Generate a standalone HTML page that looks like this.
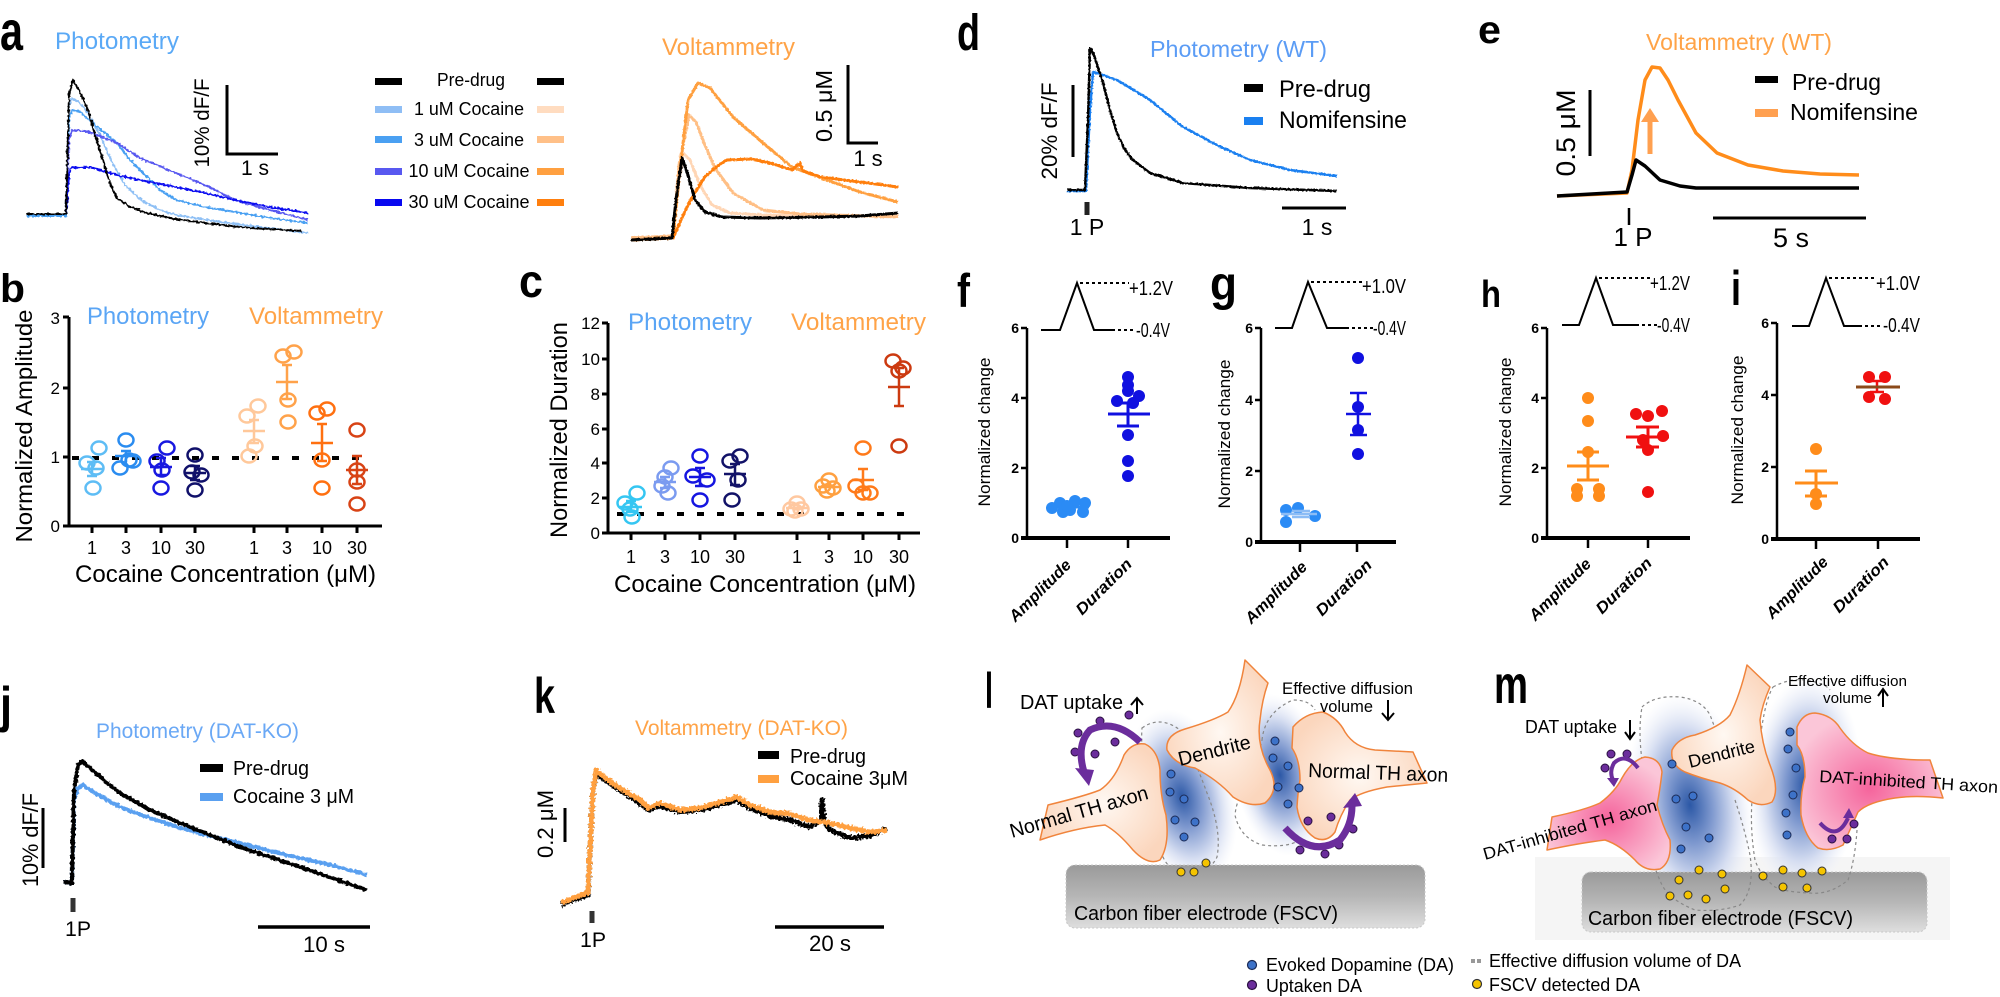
<!DOCTYPE html>
<html><head><meta charset="utf-8">
<style>
html,body{margin:0;padding:0;background:#fff;}
svg{display:block;}
text{font-family:"Liberation Sans",Arial,sans-serif;}
</style></head><body>
<svg width="2000" height="997" viewBox="0 0 2000 997" xmlns="http://www.w3.org/2000/svg">
<defs>
 <filter id="jit" x="-5%" y="-10%" width="110%" height="120%">
  <feTurbulence type="fractalNoise" baseFrequency="0.4" numOctaves="1" seed="4" result="n"/>
  <feDisplacementMap in="SourceGraphic" in2="n" scale="4" xChannelSelector="R" yChannelSelector="G"/>
 </filter>
 <filter id="jit2" x="-5%" y="-10%" width="110%" height="120%">
  <feTurbulence type="fractalNoise" baseFrequency="0.5" numOctaves="1" seed="7" result="n"/>
  <feDisplacementMap in="SourceGraphic" in2="n" scale="6" xChannelSelector="R" yChannelSelector="G"/>
 </filter>
 <filter id="jit3" x="-5%" y="-10%" width="110%" height="120%">
  <feTurbulence type="fractalNoise" baseFrequency="0.5" numOctaves="1" seed="2" result="n"/>
  <feDisplacementMap in="SourceGraphic" in2="n" scale="2.5" xChannelSelector="R" yChannelSelector="G"/>
 </filter>
 <radialGradient id="cloud" cx="50%" cy="50%" r="50%">
  <stop offset="0" stop-color="#2c58a6"/>
  <stop offset="0.35" stop-color="#7f99cf"/>
  <stop offset="0.7" stop-color="#d5ddf1"/>
  <stop offset="1" stop-color="#eef1fa" stop-opacity="0"/>
 </radialGradient>
 <radialGradient id="peach" cx="50%" cy="50%" r="55%">
  <stop offset="0" stop-color="#fff8f2"/>
  <stop offset="1" stop-color="#fbd6bd"/>
 </radialGradient>
 <radialGradient id="pink" cx="50%" cy="55%" r="55%">
  <stop offset="0" stop-color="#f5649c"/>
  <stop offset="1" stop-color="#fbc6d8"/>
 </radialGradient>
 <linearGradient id="elec" x1="0" y1="0" x2="0" y2="1">
  <stop offset="0" stop-color="#9a9a9a"/>
  <stop offset="0.5" stop-color="#b6b6b6"/>
  <stop offset="1" stop-color="#dedede"/>
 </linearGradient>
</defs>

<!-- ============ Panel labels ============ -->
<g font-weight="bold" fill="#000">
 <text x="0" y="50" font-size="56" textLength="23" lengthAdjust="spacingAndGlyphs">a</text>
 <text x="0" y="302" font-size="40" textLength="25" lengthAdjust="spacingAndGlyphs">b</text>
 <text x="519" y="297" font-size="46" textLength="24" lengthAdjust="spacingAndGlyphs">c</text>
 <text x="957" y="50" font-size="51" textLength="23" lengthAdjust="spacingAndGlyphs">d</text>
 <text x="1478" y="43" font-size="39" textLength="23" lengthAdjust="spacingAndGlyphs">e</text>
 <text x="957" y="307" font-size="47" textLength="13" lengthAdjust="spacingAndGlyphs">f</text>
 <text x="1210" y="300" font-size="48" textLength="27" lengthAdjust="spacingAndGlyphs">g</text>
 <text x="1481" y="307" font-size="38" textLength="20" lengthAdjust="spacingAndGlyphs">h</text>
 <text x="1731" y="305" font-size="49" textLength="10" lengthAdjust="spacingAndGlyphs">i</text>
 <text x="0" y="722" font-size="50" textLength="12" lengthAdjust="spacingAndGlyphs">j</text>
 <text x="534" y="713" font-size="50" textLength="21" lengthAdjust="spacingAndGlyphs">k</text>
 <text x="985" y="708" font-size="50" textLength="8" lengthAdjust="spacingAndGlyphs">l</text>
 <text x="1494" y="703" font-size="54" textLength="34" lengthAdjust="spacingAndGlyphs">m</text>
</g>

<!-- ============ Panel a ============ -->
<text x="55" y="49" font-size="24" fill="#5aa9f6" textLength="124" lengthAdjust="spacingAndGlyphs">Photometry</text>
<g fill="none" stroke-width="2" stroke-linejoin="round" filter="url(#jit)">
 <path stroke="#8fc0f5" d="M26,216 L66,216 L69,105 L72,98 L80,103 L88,113 L100,135 L111,160 L125,185 L141,200 L160,210 L176,215 L220,222 L260,227 L308,233"/>
 <path stroke="#4aa0f2" d="M26,216 L66,216 L69,120 L72,110 L80,112 L95,125 L117,143 L130,160 L147,177 L160,190 L176,200 L205,207 L235,212 L270,218 L308,223"/>
 <path stroke="#5858f0" d="M26,214 L66,214 L69,140 L72,130 L85,131 L100,136 L117,143 L140,158 L176,173 L205,185 L235,200 L270,210 L308,220"/>
 <path stroke="#0a10f0" d="M26,214 L66,214 L69,175 L71,167 L80,168 L90,167 L100,170 L117,175 L140,180 L176,187 L205,193 L235,200 L270,207 L308,213"/>
 <path stroke="#000" d="M26,214 L66,214 L69,95 L73,80 L80,92 L88,110 L95,135 L103,160 L110,183 L117,198 L130,207 L147,213 L175,219 L205,223 L250,228 L302,231"/>
</g>
<path d="M227,85 V154 H278" fill="none" stroke="#000" stroke-width="3"/>
<text transform="translate(209,123) rotate(-90)" text-anchor="middle" font-size="21" textLength="89" lengthAdjust="spacingAndGlyphs">10% dF/F</text>
<text x="255" y="175" text-anchor="middle" font-size="21">1 s</text>

<!-- legend a -->
<g>
 <rect x="375" y="78" width="27" height="7" fill="#000"/>
 <rect x="375" y="106" width="27" height="7" fill="#8fbef5"/>
 <rect x="375" y="136" width="27" height="7" fill="#4aa0f2"/>
 <rect x="375" y="168" width="27" height="7" fill="#5858f0"/>
 <rect x="375" y="199" width="27" height="7" fill="#0808f0"/>
 <rect x="537" y="78" width="27" height="7" fill="#000"/>
 <rect x="537" y="106" width="27" height="7" fill="#ffdcc0"/>
 <rect x="537" y="136" width="27" height="7" fill="#ffc088"/>
 <rect x="537" y="168" width="27" height="7" fill="#ffa040"/>
 <rect x="537" y="199" width="27" height="7" fill="#ff7f0e"/>
 <g font-size="18" text-anchor="middle">
  <text x="471" y="86" textLength="68" lengthAdjust="spacingAndGlyphs">Pre-drug</text>
  <text x="469" y="115" textLength="110" lengthAdjust="spacingAndGlyphs">1 uM Cocaine</text>
  <text x="469" y="146" textLength="110" lengthAdjust="spacingAndGlyphs">3 uM Cocaine</text>
  <text x="469" y="177" textLength="121" lengthAdjust="spacingAndGlyphs">10 uM Cocaine</text>
  <text x="469" y="208" textLength="121" lengthAdjust="spacingAndGlyphs">30 uM Cocaine</text>
 </g>
</g>

<!-- voltammetry a -->
<text x="662" y="55" font-size="24" fill="#ffa347" textLength="133" lengthAdjust="spacingAndGlyphs">Voltammetry</text>
<g fill="none" stroke-width="3" stroke-linejoin="round" filter="url(#jit3)">
 <path stroke="#ffd6b5" d="M631,238 L673,236 L677,195 L683,153 L690,160 L700,185 L712,205 L730,213 L763,215 L898,216"/>
 <path stroke="#ffbf85" d="M631,238 L673,236 L679,165 L689,115 L696,122 L704,143 L715,168 L733,193 L763,210 L800,214 L898,217"/>
 <path stroke="#ffa040" d="M631,240 L673,238 L680,170 L688,100 L698,83 L710,88 L722,103 L733,117 L748,130 L763,143 L792,167 L821,178 L860,192 L898,202"/>
 <path stroke="#ff7f0e" d="M631,240 L673,238 L680,222 L689,203 L704,178 L716,167 L727,160 L751,159 L770,163 L792,170 L800,163 L803,171 L821,177 L860,182 L898,187"/>
 <path stroke="#000" d="M631,240 L672,238 L676,200 L682,158 L688,175 L695,200 L705,212 L722,217 L760,218 L820,217 L860,216 L898,213"/>
</g>
<path d="M848,65 V143 H878" fill="none" stroke="#000" stroke-width="3"/>
<text transform="translate(832,106) rotate(-90)" text-anchor="middle" font-size="23" textLength="72" lengthAdjust="spacingAndGlyphs">0.5 μM</text>
<text x="868" y="166" text-anchor="middle" font-size="22">1 s</text>

<!-- ============ Panel d ============ -->
<text x="1150" y="57" font-size="23" fill="#5b9cf5" textLength="177" lengthAdjust="spacingAndGlyphs">Photometry (WT)</text>
<g fill="none" stroke-width="2.5" stroke-linejoin="round" filter="url(#jit3)">
 <path stroke="#1a80f0" d="M1067,191 L1086,191 L1090,110 L1093,72 L1100,74 L1117,80 L1150,100 L1183,127 L1217,145 L1250,160 L1290,170 L1337,176"/>
 <path stroke="#000" d="M1067,190 L1085,190 L1088,120 L1090,48 L1094,55 L1103,83 L1110,110 L1117,133 L1125,150 L1133,160 L1150,173 L1183,183 L1250,188 L1337,191"/>
</g>
<line x1="1073" y1="85" x2="1073" y2="157" stroke="#000" stroke-width="3"/>
<text transform="translate(1057,131) rotate(-90)" text-anchor="middle" font-size="22" textLength="97" lengthAdjust="spacingAndGlyphs">20% dF/F</text>
<rect x="1244" y="84" width="19" height="8" fill="#000"/>
<rect x="1244" y="117" width="19" height="8" fill="#1a80f0"/>
<text x="1279" y="97" font-size="24" textLength="92" lengthAdjust="spacingAndGlyphs">Pre-drug</text>
<text x="1279" y="128" font-size="24" textLength="128" lengthAdjust="spacingAndGlyphs">Nomifensine</text>
<line x1="1087" y1="202" x2="1087" y2="215" stroke="#222" stroke-width="5"/>
<text x="1087" y="235" text-anchor="middle" font-size="23">1 P</text>
<line x1="1282" y1="208" x2="1346" y2="208" stroke="#000" stroke-width="3"/>
<text x="1317" y="235" text-anchor="middle" font-size="23">1 s</text>

<!-- ============ Panel e ============ -->
<text x="1646" y="50" font-size="23" fill="#ffa347" textLength="186" lengthAdjust="spacingAndGlyphs">Voltammetry (WT)</text>
<g fill="none" stroke-width="3.5" stroke-linejoin="round">
 <path stroke="#ff8c1a" d="M1557,196 L1627,193 L1632,170 L1638,120 L1645,80 L1652,67 L1660,68 L1668,80 L1678,100 L1696,133 L1717,153 L1748,165 L1783,171 L1820,174 L1859,175"/>
 <path stroke="#000" d="M1557,196 L1627,192 L1632,175 L1636,160 L1645,166 L1660,180 L1680,186 L1696,188 L1859,188"/>
</g>
<line x1="1650" y1="154" x2="1650" y2="120" stroke="#ffa050" stroke-width="5"/>
<polygon points="1641,122 1659,122 1650,108" fill="#ffa050"/>
<line x1="1590" y1="90" x2="1590" y2="156" stroke="#000" stroke-width="3"/>
<text transform="translate(1575,133) rotate(-90)" text-anchor="middle" font-size="27" textLength="87" lengthAdjust="spacingAndGlyphs">0.5 μM</text>
<rect x="1755" y="76" width="23" height="7" fill="#000"/>
<rect x="1755" y="109" width="23" height="8" fill="#ffa050"/>
<text x="1792" y="90" font-size="23" textLength="89" lengthAdjust="spacingAndGlyphs">Pre-drug</text>
<text x="1790" y="120" font-size="23" textLength="128" lengthAdjust="spacingAndGlyphs">Nomifensine</text>
<line x1="1629" y1="208" x2="1629" y2="225" stroke="#000" stroke-width="2.5"/>
<text x="1633" y="246" text-anchor="middle" font-size="26">1 P</text>
<line x1="1713" y1="218" x2="1866" y2="218" stroke="#000" stroke-width="3"/>
<text x="1791" y="247" text-anchor="middle" font-size="27">5 s</text>

<!-- ============ Panel b ============ -->
<g stroke="#000" stroke-width="3" fill="none">
 <path d="M69,317 V526 H382"/>
 <path d="M63,317 H69 M63,388 H69 M63,457 H69 M63,526 H69"/>
 <path d="M92,526 V533 M126,526 V533 M161,526 V533 M195,526 V533 M254,526 V533 M287,526 V533 M322,526 V533 M357,526 V533"/>
</g>
<g font-size="17" text-anchor="end">
 <text x="60" y="324">3</text><text x="60" y="394">2</text><text x="60" y="463">1</text><text x="60" y="532">0</text>
</g>
<g font-size="18" text-anchor="middle">
 <text x="92" y="554">1</text><text x="126" y="554">3</text><text x="161" y="554">10</text><text x="195" y="554">30</text>
 <text x="254" y="554">1</text><text x="287" y="554">3</text><text x="322" y="554">10</text><text x="357" y="554">30</text>
</g>
<text x="75" y="582" font-size="24" textLength="301" lengthAdjust="spacingAndGlyphs">Cocaine Concentration (μM)</text>
<text transform="translate(32,426) rotate(-90)" text-anchor="middle" font-size="23" textLength="233" lengthAdjust="spacingAndGlyphs">Normalized Amplitude</text>
<text x="87" y="324" font-size="24" fill="#5aa5f5" textLength="122" lengthAdjust="spacingAndGlyphs">Photometry</text>
<text x="249" y="324" font-size="24" fill="#ffa347" textLength="134" lengthAdjust="spacingAndGlyphs">Voltammetry</text>
<line x1="72" y1="458" x2="369" y2="458" stroke="#000" stroke-width="4" stroke-dasharray="7 13"/>
<g fill="none" stroke-width="2.5">
 <g stroke="#5ebdf5">
  <ellipse cx="99" cy="448" rx="7.5" ry="6.5"/><ellipse cx="87" cy="463" rx="7.5" ry="6.5"/><ellipse cx="96" cy="468" rx="7.5" ry="6.5"/><ellipse cx="93" cy="488" rx="7.5" ry="6.5"/>
  <path d="M81,469 H103 M92,462 V476 M87,462 H97 M87,476 H97"/>
 </g>
 <g stroke="#2a8cf0">
  <ellipse cx="126" cy="440" rx="7.5" ry="6.5"/><ellipse cx="129" cy="460" rx="7.5" ry="6.5"/><ellipse cx="133" cy="461" rx="7.5" ry="6.5"/><ellipse cx="120" cy="468" rx="7.5" ry="6.5"/>
  <path d="M115,456 H137 M126,451 V462 M121,451 H131"/>
 </g>
 <g stroke="#1818e0">
  <ellipse cx="167" cy="448" rx="7.5" ry="6.5"/><ellipse cx="157" cy="461" rx="7.5" ry="6.5"/><ellipse cx="162" cy="470" rx="7.5" ry="6.5"/><ellipse cx="161" cy="488" rx="7.5" ry="6.5"/>
  <path d="M150,467 H172 M161,458 V475 M156,458 H166 M156,475 H166"/>
 </g>
 <g stroke="#10106a">
  <ellipse cx="195" cy="455" rx="7.5" ry="6.5"/><ellipse cx="192" cy="472" rx="7.5" ry="6.5"/><ellipse cx="201" cy="475" rx="7.5" ry="6.5"/><ellipse cx="195" cy="490" rx="7.5" ry="6.5"/>
  <path d="M184,473 H206 M195,466 V480 M190,466 H200 M190,480 H200"/>
 </g>
 <g stroke="#ffc89a">
  <ellipse cx="258" cy="406" rx="7.5" ry="6.5"/><ellipse cx="247" cy="416" rx="7.5" ry="6.5"/><ellipse cx="255" cy="446" rx="7.5" ry="6.5"/><ellipse cx="249" cy="456" rx="7.5" ry="6.5"/>
  <path d="M243,431 H265 M254,420 V443 M249,420 H259 M249,443 H259"/>
 </g>
 <g stroke="#ffa24a">
  <ellipse cx="294" cy="352" rx="7.5" ry="6.5"/><ellipse cx="283" cy="356" rx="7.5" ry="6.5"/><ellipse cx="288" cy="400" rx="7.5" ry="6.5"/><ellipse cx="288" cy="422" rx="7.5" ry="6.5"/>
  <path d="M276,382 H298 M287,365 V399 M282,365 H292 M282,399 H292"/>
 </g>
 <g stroke="#ff7010">
  <ellipse cx="327" cy="409" rx="7.5" ry="6.5"/><ellipse cx="317" cy="413" rx="7.5" ry="6.5"/><ellipse cx="322" cy="460" rx="7.5" ry="6.5"/><ellipse cx="322" cy="488" rx="7.5" ry="6.5"/>
  <path d="M311,443 H333 M322,424 V461 M317,424 H327 M317,461 H327"/>
 </g>
 <g stroke="#d84315">
  <ellipse cx="357" cy="430" rx="7.5" ry="6.5"/><ellipse cx="357" cy="470" rx="7.5" ry="6.5"/><ellipse cx="357" cy="482" rx="7.5" ry="6.5"/><ellipse cx="357" cy="504" rx="7.5" ry="6.5"/>
  <path d="M346,470 H368 M357,456 V484 M352,456 H362 M352,484 H362"/>
 </g>
</g>

<!-- ============ Panel c ============ -->
<g stroke="#000" stroke-width="3" fill="none">
 <path d="M608,323 V533 H920"/>
 <path d="M602,323 H608 M602,359 H608 M602,394 H608 M602,429 H608 M602,463 H608 M602,498 H608 M602,533 H608"/>
 <path d="M631,533 V540 M665,533 V540 M700,533 V540 M735,533 V540 M797,533 V540 M829,533 V540 M863,533 V540 M899,533 V540"/>
</g>
<g font-size="17" text-anchor="end">
 <text x="600" y="329">12</text><text x="600" y="365">10</text><text x="600" y="400">8</text><text x="600" y="435">6</text>
 <text x="600" y="469">4</text><text x="600" y="504">2</text><text x="600" y="539">0</text>
</g>
<g font-size="18" text-anchor="middle">
 <text x="631" y="563">1</text><text x="665" y="563">3</text><text x="700" y="563">10</text><text x="735" y="563">30</text>
 <text x="797" y="563">1</text><text x="829" y="563">3</text><text x="863" y="563">10</text><text x="899" y="563">30</text>
</g>
<text x="614" y="592" font-size="24" textLength="302" lengthAdjust="spacingAndGlyphs">Cocaine Concentration (μM)</text>
<text transform="translate(567,430) rotate(-90)" text-anchor="middle" font-size="24" textLength="216" lengthAdjust="spacingAndGlyphs">Normalized Duration</text>
<text x="628" y="330" font-size="24" fill="#5aa5f5" textLength="124" lengthAdjust="spacingAndGlyphs">Photometry</text>
<text x="791" y="330" font-size="24" fill="#ffa347" textLength="135" lengthAdjust="spacingAndGlyphs">Voltammetry</text>
<line x1="617" y1="514" x2="911" y2="514" stroke="#000" stroke-width="4" stroke-dasharray="7 13"/>
<g fill="none" stroke-width="2.5">
 <g stroke="#35c6f2">
  <ellipse cx="637" cy="493" rx="7.5" ry="6.5"/><ellipse cx="625" cy="503" rx="7.5" ry="6.5"/><ellipse cx="630" cy="509" rx="7.5" ry="6.5"/><ellipse cx="632" cy="517" rx="7.5" ry="6.5"/>
  <path d="M620,507 H642 M631,501 V512 M626,501 H636 M626,512 H636"/>
 </g>
 <g stroke="#7b9bf0">
  <ellipse cx="671" cy="468" rx="7.5" ry="6.5"/><ellipse cx="665" cy="477" rx="7.5" ry="6.5"/><ellipse cx="662" cy="486" rx="7.5" ry="6.5"/><ellipse cx="668" cy="493" rx="7.5" ry="6.5"/>
  <path d="M654,482 H676 M665,477 V488 M660,477 H670 M660,488 H670"/>
 </g>
 <g stroke="#1515e0">
  <ellipse cx="700" cy="456" rx="7.5" ry="6.5"/><ellipse cx="693" cy="476" rx="7.5" ry="6.5"/><ellipse cx="707" cy="480" rx="7.5" ry="6.5"/><ellipse cx="700" cy="500" rx="7.5" ry="6.5"/>
  <path d="M689,477 H711 M700,468 V486 M695,468 H705 M695,486 H705"/>
 </g>
 <g stroke="#121268">
  <ellipse cx="740" cy="456" rx="7.5" ry="6.5"/><ellipse cx="730" cy="461" rx="7.5" ry="6.5"/><ellipse cx="738" cy="480" rx="7.5" ry="6.5"/><ellipse cx="732" cy="500" rx="7.5" ry="6.5"/>
  <path d="M724,474 H746 M735,464 V485 M730,464 H740 M730,485 H740"/>
 </g>
 <g stroke="#ffc8a0">
  <ellipse cx="797" cy="503" rx="7.5" ry="6.5"/><ellipse cx="791" cy="509" rx="7.5" ry="6.5"/><ellipse cx="801" cy="509" rx="7.5" ry="6.5"/><ellipse cx="795" cy="511" rx="7.5" ry="6.5"/>
  <path d="M786,508 H808"/>
 </g>
 <g stroke="#ffa040">
  <ellipse cx="829" cy="480" rx="7.5" ry="6.5"/><ellipse cx="823" cy="486" rx="7.5" ry="6.5"/><ellipse cx="833" cy="488" rx="7.5" ry="6.5"/><ellipse cx="827" cy="491" rx="7.5" ry="6.5"/>
  <path d="M818,487 H840"/>
 </g>
 <g stroke="#ff7a1a">
  <ellipse cx="863" cy="448" rx="7.5" ry="6.5"/><ellipse cx="856" cy="486" rx="7.5" ry="6.5"/><ellipse cx="870" cy="493" rx="7.5" ry="6.5"/><ellipse cx="863" cy="493" rx="7.5" ry="6.5"/>
  <path d="M852,480 H874 M863,469 V490 M858,469 H868 M858,490 H868"/>
 </g>
 <g stroke="#cc3a10">
  <ellipse cx="893" cy="361" rx="7.5" ry="6.5"/><ellipse cx="903" cy="368" rx="7.5" ry="6.5"/><ellipse cx="899" cy="371" rx="7.5" ry="6.5"/><ellipse cx="899" cy="446" rx="7.5" ry="6.5"/>
  <path d="M888,387 H910 M899,368 V406 M894,368 H904 M894,406 H904"/>
 </g>
</g>

<!-- ============ Panels f-i ============ -->
<!-- f -->
<g stroke="#000" fill="none">
 <path d="M1027,328 V538" stroke-width="2.5"/>
 <path d="M1021,538 H1170" stroke-width="4"/>
 <path d="M1021,328 H1027 M1021,398 H1027 M1021,468 H1027" stroke-width="2.5"/>
 <path d="M1067,538 V548 M1128,538 V548" stroke-width="2.5"/>
 <path d="M1041,330 H1060 L1077,283 L1094,330 H1112" stroke-width="2"/>
 <path d="M1112,330 H1136 M1080,283 H1129" stroke-width="2" stroke-dasharray="3 3"/>
</g>
<g font-size="14" font-weight="bold" text-anchor="end">
 <text x="1019" y="333">6</text><text x="1019" y="403">4</text><text x="1019" y="473">2</text><text x="1019" y="543">0</text>
</g>
<text x="1129" y="295" font-size="20" textLength="44" lengthAdjust="spacingAndGlyphs">+1.2V</text>
<text x="1136" y="337" font-size="20" textLength="34" lengthAdjust="spacingAndGlyphs">-0.4V</text>
<text transform="translate(990,432) rotate(-90)" text-anchor="middle" font-size="17" textLength="149" lengthAdjust="spacingAndGlyphs">Normalized change</text>
<g font-size="16" font-weight="bold" font-style="italic" text-anchor="end">
 <text transform="translate(1072,566) rotate(-45)" textLength="80" lengthAdjust="spacingAndGlyphs">Amplitude</text>
 <text transform="translate(1133,565) rotate(-45)" textLength="72" lengthAdjust="spacingAndGlyphs">Duration</text>
</g>
<g fill="#2b8bf5">
 <circle cx="1052" cy="508" r="6"/><circle cx="1060" cy="503" r="6"/><circle cx="1063" cy="512" r="6"/><circle cx="1075" cy="501" r="6"/>
 <circle cx="1070" cy="510" r="6"/><circle cx="1085" cy="503" r="6"/><circle cx="1083" cy="512" r="6"/><circle cx="1067" cy="506" r="6"/>
</g>
<path d="M1048,507 H1089" stroke="#2b8bf5" stroke-width="3"/>
<g fill="#1010e0">
 <circle cx="1128" cy="377" r="6"/><circle cx="1128" cy="385" r="6"/><circle cx="1128" cy="391" r="6"/><circle cx="1139" cy="396" r="6"/>
 <circle cx="1117" cy="401" r="6"/><circle cx="1133" cy="403" r="6"/><circle cx="1128" cy="435" r="6"/><circle cx="1128" cy="461" r="6"/><circle cx="1128" cy="476" r="6"/>
</g>
<path d="M1108,414 H1150 M1128,403 V426 M1117,403 H1139 M1117,426 H1139" stroke="#1010e0" stroke-width="3" fill="none"/>

<!-- g -->
<g stroke="#000" fill="none">
 <path d="M1261,328 V542" stroke-width="2.5"/>
 <path d="M1255,542 H1396" stroke-width="4"/>
 <path d="M1255,328 H1261 M1255,400 H1261 M1255,471 H1261" stroke-width="2.5"/>
 <path d="M1300,542 V552 M1357,542 V552" stroke-width="2.5"/>
 <path d="M1275,328 H1292 L1308,282 L1327,328 H1346" stroke-width="2"/>
 <path d="M1346,328 H1373 M1311,282 H1362" stroke-width="2" stroke-dasharray="3 3"/>
</g>
<g font-size="14" font-weight="bold" text-anchor="end">
 <text x="1253" y="333">6</text><text x="1253" y="405">4</text><text x="1253" y="476">2</text><text x="1253" y="547">0</text>
</g>
<text x="1362" y="293" font-size="20" textLength="44" lengthAdjust="spacingAndGlyphs">+1.0V</text>
<text x="1373" y="335" font-size="20" textLength="33" lengthAdjust="spacingAndGlyphs">-0.4V</text>
<text transform="translate(1230,434) rotate(-90)" text-anchor="middle" font-size="17" textLength="149" lengthAdjust="spacingAndGlyphs">Normalized change</text>
<g font-size="16" font-weight="bold" font-style="italic" text-anchor="end">
 <text transform="translate(1308,568) rotate(-45)" textLength="80" lengthAdjust="spacingAndGlyphs">Amplitude</text>
 <text transform="translate(1373,566) rotate(-45)" textLength="72" lengthAdjust="spacingAndGlyphs">Duration</text>
</g>
<g fill="#2b8bf5">
 <circle cx="1286" cy="510" r="6"/><circle cx="1298" cy="508" r="6"/><circle cx="1315" cy="516" r="6"/><circle cx="1286" cy="522" r="6"/>
</g>
<path d="M1281,514 H1317 M1292,511 H1310 M1292,517 H1310" stroke="#8cbcf5" stroke-width="2.5" fill="none"/>
<g fill="#1010e0">
 <circle cx="1358" cy="358" r="6"/><circle cx="1358" cy="407" r="6"/><circle cx="1358" cy="430" r="6"/><circle cx="1358" cy="454" r="6"/>
</g>
<path d="M1346,414 H1371 M1358,393 V435 M1350,393 H1367 M1350,435 H1367" stroke="#1010e0" stroke-width="2.5" fill="none"/>

<!-- h -->
<g stroke="#000" fill="none">
 <path d="M1547,328 V538" stroke-width="2.5"/>
 <path d="M1541,538 H1690" stroke-width="4"/>
 <path d="M1541,328 H1547 M1541,398 H1547 M1541,468 H1547" stroke-width="2.5"/>
 <path d="M1588,538 V548 M1648,538 V548" stroke-width="2.5"/>
 <path d="M1562,325 H1579 L1596,278 L1613,325 H1636" stroke-width="2"/>
 <path d="M1636,325 H1657 M1599,278 H1650" stroke-width="2" stroke-dasharray="3 3"/>
</g>
<g font-size="14" font-weight="bold" text-anchor="end">
 <text x="1539" y="333">6</text><text x="1539" y="403">4</text><text x="1539" y="473">2</text><text x="1539" y="543">0</text>
</g>
<text x="1650" y="290" font-size="20" textLength="40" lengthAdjust="spacingAndGlyphs">+1.2V</text>
<text x="1657" y="332" font-size="20" textLength="33" lengthAdjust="spacingAndGlyphs">-0.4V</text>
<text transform="translate(1511,432) rotate(-90)" text-anchor="middle" font-size="17" textLength="149" lengthAdjust="spacingAndGlyphs">Normalized change</text>
<g font-size="16" font-weight="bold" font-style="italic" text-anchor="end">
 <text transform="translate(1592,565) rotate(-45)" textLength="80" lengthAdjust="spacingAndGlyphs">Amplitude</text>
 <text transform="translate(1653,564) rotate(-45)" textLength="72" lengthAdjust="spacingAndGlyphs">Duration</text>
</g>
<g fill="#ff8c1a">
 <circle cx="1588" cy="398" r="6"/><circle cx="1588" cy="421" r="6"/><circle cx="1588" cy="452" r="6"/><circle cx="1577" cy="489" r="6"/>
 <circle cx="1599" cy="489" r="6"/><circle cx="1577" cy="496" r="6"/><circle cx="1599" cy="496" r="6"/>
</g>
<path d="M1567,466 H1609 M1588,452 V480 M1577,452 H1599 M1577,480 H1599" stroke="#ff8c1a" stroke-width="3" fill="none"/>
<g fill="#f01010">
 <circle cx="1636" cy="414" r="6"/><circle cx="1662" cy="411" r="6"/><circle cx="1648" cy="416" r="6"/><circle cx="1643" cy="440" r="6"/>
 <circle cx="1663" cy="436" r="6"/><circle cx="1648" cy="450" r="6"/><circle cx="1648" cy="492" r="6"/>
</g>
<path d="M1626,437 H1669 M1648,427 V447 M1636,427 H1659 M1636,447 H1659" stroke="#f01010" stroke-width="3" fill="none"/>

<!-- i -->
<g stroke="#000" fill="none">
 <path d="M1777,323 V539" stroke-width="2.5"/>
 <path d="M1771,539 H1920" stroke-width="4"/>
 <path d="M1771,323 H1777 M1771,395 H1777 M1771,467 H1777" stroke-width="2.5"/>
 <path d="M1816,539 V549 M1878,539 V549" stroke-width="2.5"/>
 <path d="M1792,326 H1809 L1826,278 L1844,326 H1859" stroke-width="2"/>
 <path d="M1859,326 H1883 M1829,278 H1876" stroke-width="2" stroke-dasharray="3 3"/>
</g>
<g font-size="14" font-weight="bold" text-anchor="end">
 <text x="1769" y="328">6</text><text x="1769" y="400">4</text><text x="1769" y="472">2</text><text x="1769" y="544">0</text>
</g>
<text x="1876" y="290" font-size="20" textLength="44" lengthAdjust="spacingAndGlyphs">+1.0V</text>
<text x="1883" y="332" font-size="20" textLength="37" lengthAdjust="spacingAndGlyphs">-0.4V</text>
<text transform="translate(1743,430) rotate(-90)" text-anchor="middle" font-size="17" textLength="149" lengthAdjust="spacingAndGlyphs">Normalized change</text>
<g font-size="16" font-weight="bold" font-style="italic" text-anchor="end">
 <text transform="translate(1829,563) rotate(-45)" textLength="80" lengthAdjust="spacingAndGlyphs">Amplitude</text>
 <text transform="translate(1890,563) rotate(-45)" textLength="72" lengthAdjust="spacingAndGlyphs">Duration</text>
</g>
<g fill="#ff8c1a">
 <circle cx="1816" cy="449" r="6"/><circle cx="1816" cy="494" r="6"/><circle cx="1816" cy="504" r="6"/>
</g>
<path d="M1795,483 H1838 M1816,471 V496 M1805,471 H1827 M1805,496 H1827" stroke="#ff8c1a" stroke-width="3" fill="none"/>
<g fill="#f01010">
 <circle cx="1869" cy="377" r="6"/><circle cx="1885" cy="377" r="6"/><circle cx="1869" cy="397" r="6"/><circle cx="1885" cy="399" r="6"/>
</g>
<path d="M1870,381 H1884 M1877,381 V392 M1870,392 H1884" stroke="#f01010" stroke-width="2.5" fill="none"/>
<path d="M1856,387 H1900" stroke="#8b4a1a" stroke-width="3"/>

<!-- ============ Panel j ============ -->
<text x="96" y="738" font-size="21" fill="#6aa8f5" textLength="203" lengthAdjust="spacingAndGlyphs">Photometry (DAT-KO)</text>
<g fill="none" stroke-width="4" stroke-linejoin="round" filter="url(#jit)">
 <path stroke="#5aa0f0" d="M63,882 L72,883 L74,800 L78,788 L83,785 L95,793 L120,807 L150,818 L180,828 L210,836 L240,843 L270,851 L300,858 L335,866 L367,875"/>
 <path stroke="#000" d="M63,882 L72,883 L74,790 L78,765 L82,761 L90,768 L100,777 L120,793 L150,810 L180,823 L210,835 L240,847 L270,857 L300,867 L335,879 L367,890"/>
</g>
<line x1="43" y1="808" x2="43" y2="868" stroke="#000" stroke-width="3"/>
<text transform="translate(38,840) rotate(-90)" text-anchor="middle" font-size="22" textLength="94" lengthAdjust="spacingAndGlyphs">10% dF/F</text>
<rect x="200" y="764" width="23" height="8" fill="#000"/>
<rect x="200" y="793" width="23" height="8" fill="#5aa0f0"/>
<text x="233" y="775" font-size="20" textLength="76" lengthAdjust="spacingAndGlyphs">Pre-drug</text>
<text x="233" y="803" font-size="20" textLength="121" lengthAdjust="spacingAndGlyphs">Cocaine 3 μM</text>
<line x1="73" y1="898" x2="73" y2="912" stroke="#333" stroke-width="5"/>
<text x="78" y="936" text-anchor="middle" font-size="21" textLength="26" lengthAdjust="spacingAndGlyphs">1P</text>
<line x1="258" y1="927" x2="370" y2="927" stroke="#000" stroke-width="3.5"/>
<text x="324" y="952" text-anchor="middle" font-size="22" textLength="42" lengthAdjust="spacingAndGlyphs">10 s</text>

<!-- ============ Panel k ============ -->
<text x="635" y="735" font-size="21" fill="#ffa347" textLength="213" lengthAdjust="spacingAndGlyphs">Voltammetry (DAT-KO)</text>
<g fill="none" stroke-width="5" stroke-linejoin="round" filter="url(#jit2)">
 <path stroke="#000" d="M561,905 L575,899 L588,895 L590,850 L593,790 L596,772 L605,780 L620,790 L640,803 L648,810 L660,806 L680,812 L700,810 L720,805 L737,800 L750,808 L770,816 L790,820 L809,827 L821,820 L822,800 L824,822 L830,830 L851,838 L870,836 L887,828"/>
 <path stroke="#ffa040" d="M561,903 L575,897 L588,893 L590,850 L593,790 L596,770 L605,778 L620,788 L640,800 L648,808 L660,803 L680,810 L700,808 L720,802 L737,797 L750,805 L770,812 L790,814 L809,820 L830,823 L850,828 L870,832 L887,830"/>
</g>
<line x1="565" y1="808" x2="565" y2="842" stroke="#000" stroke-width="3"/>
<text transform="translate(553,824) rotate(-90)" text-anchor="middle" font-size="22" textLength="68" lengthAdjust="spacingAndGlyphs">0.2 μM</text>
<rect x="758" y="751" width="21" height="8" fill="#000"/>
<rect x="758" y="775" width="21" height="8" fill="#ffa040"/>
<text x="790" y="763" font-size="20" textLength="76" lengthAdjust="spacingAndGlyphs">Pre-drug</text>
<text x="790" y="785" font-size="20" textLength="118" lengthAdjust="spacingAndGlyphs">Cocaine 3μM</text>
<line x1="592" y1="911" x2="592" y2="923" stroke="#333" stroke-width="5"/>
<text x="593" y="947" text-anchor="middle" font-size="21" textLength="26" lengthAdjust="spacingAndGlyphs">1P</text>
<line x1="775" y1="927" x2="884" y2="927" stroke="#000" stroke-width="3.5"/>
<text x="830" y="951" text-anchor="middle" font-size="22" textLength="42" lengthAdjust="spacingAndGlyphs">20 s</text>

<!-- ============ Panel l ============ -->
<ellipse cx="1182" cy="797" rx="52" ry="90" transform="rotate(-15 1182 797)" fill="url(#cloud)"/>
<ellipse cx="1280" cy="775" rx="46" ry="82" transform="rotate(-10 1280 775)" fill="url(#cloud)"/>
<path d="M1142,728 Q1160,715 1180,730 Q1195,760 1207,793 Q1222,830 1217,857 Q1210,872 1190,874 Q1170,873 1163,857 Q1155,820 1150,790 Q1140,755 1142,728 Z" fill="none" stroke="#888" stroke-width="1.2" stroke-dasharray="3 3"/>
<path d="M1262,740 Q1265,712 1293,700 Q1310,700 1315,710 M1300,840 Q1287,848 1262,845 Q1240,838 1235,815 Q1237,795 1248,790 Q1255,770 1262,740" fill="none" stroke="#888" stroke-width="1.2" stroke-dasharray="3 3"/>
<rect x="1066" y="865" width="359" height="63" rx="9" fill="url(#elec)" stroke="#c8c8c8" stroke-dasharray="2 2"/>
<g stroke="#f0843c" stroke-width="1.5" fill="url(#peach)" stroke-linejoin="round">
 <path d="M1040,840 L1048,805 Q1085,796 1100,790 Q1115,780 1124,755 Q1132,742 1145,744 Q1158,750 1160,770 Q1160,795 1166,815 Q1170,845 1160,860 Q1148,866 1133,850 Q1118,832 1105,825 Q1075,828 1040,840 Z"/>
 <path d="M1245,660 L1268,683 Q1262,700 1260,720 Q1256,745 1270,770 Q1280,790 1265,803 Q1250,808 1233,797 Q1218,780 1195,768 Q1175,765 1167,750 Q1165,735 1185,729 Q1215,720 1228,712 Q1240,695 1245,660 Z"/>
 <path d="M1293,727 Q1305,713 1323,712 Q1338,718 1345,732 Q1355,748 1375,750 L1413,752 L1427,783 L1387,787 Q1360,792 1350,800 Q1340,815 1335,832 Q1327,843 1315,838 Q1300,828 1297,807 Q1298,790 1300,780 Q1300,760 1292,748 Z"/>
</g>
<g stroke="#1b2a55" stroke-width="1" fill="#3d72c8">
 <circle cx="1171" cy="774" r="4"/><circle cx="1170" cy="792" r="4"/><circle cx="1184" cy="799" r="4"/><circle cx="1175" cy="820" r="4"/><circle cx="1195" cy="822" r="4"/><circle cx="1184" cy="837" r="4"/>
 <circle cx="1275" cy="741" r="4"/><circle cx="1273" cy="758" r="4"/><circle cx="1288" cy="766" r="4"/><circle cx="1278" cy="787" r="4"/><circle cx="1299" cy="788" r="4"/><circle cx="1288" cy="804" r="4"/>
</g>
<g stroke="#333" stroke-width="1" fill="#f5c400">
 <circle cx="1181" cy="872" r="4"/><circle cx="1194" cy="872" r="4"/><circle cx="1206" cy="863" r="4"/>
</g>
<g stroke="#2a1040" stroke-width="1" fill="#6b2d9c">
 <circle cx="1078" cy="733" r="4"/><circle cx="1100" cy="721" r="4"/><circle cx="1129" cy="715" r="4"/><circle cx="1115" cy="742" r="4"/><circle cx="1095" cy="754" r="4"/><circle cx="1075" cy="752" r="4"/>
 <circle cx="1308" cy="821" r="4"/><circle cx="1331" cy="817" r="4"/><circle cx="1353" cy="829" r="4"/><circle cx="1339" cy="845" r="4"/><circle cx="1325" cy="854" r="4"/><circle cx="1300" cy="850" r="4"/>
</g>
<path d="M1140,742 Q1115,718 1090,730 Q1076,745 1084,772" fill="none" stroke="#6b2d9c" stroke-width="7"/>
<polygon points="1075,768 1094,770 1089,786" fill="#6b2d9c"/>
<path d="M1285,828 Q1312,858 1340,840 Q1352,825 1352,806" fill="none" stroke="#6b2d9c" stroke-width="7"/>
<polygon points="1343,808 1362,806 1355,793" fill="#6b2d9c"/>
<text x="1020" y="709" font-size="20" textLength="103" lengthAdjust="spacingAndGlyphs">DAT uptake</text>
<path d="M1137,714 V699 M1131,705 L1137,698 L1143,705" fill="none" stroke="#000" stroke-width="2"/>
<text x="1282" y="694" font-size="17" textLength="131" lengthAdjust="spacingAndGlyphs">Effective diffusion</text>
<text x="1320" y="712" font-size="17" textLength="53" lengthAdjust="spacingAndGlyphs">volume</text>
<path d="M1388,700 V719 M1382,713 L1388,720 L1394,713" fill="none" stroke="#000" stroke-width="2"/>
<text transform="translate(1180,766) rotate(-14)" font-size="20" textLength="74" lengthAdjust="spacingAndGlyphs">Dendrite</text>
<text transform="translate(1012,838) rotate(-16)" font-size="20" textLength="143" lengthAdjust="spacingAndGlyphs">Normal TH axon</text>
<text transform="translate(1308,777) rotate(2)" font-size="20" textLength="140" lengthAdjust="spacingAndGlyphs">Normal TH axon</text>
<text x="1074" y="920" font-size="20" textLength="264" lengthAdjust="spacingAndGlyphs">Carbon fiber electrode (FSCV)</text>

<!-- ============ Panel m ============ -->
<rect x="1535" y="857" width="415" height="83" fill="#f5f5f5"/>
<ellipse cx="1690" cy="805" rx="62" ry="112" transform="rotate(-8 1690 805)" fill="url(#cloud)"/>
<ellipse cx="1805" cy="785" rx="56" ry="110" transform="rotate(4 1805 785)" fill="url(#cloud)"/>
<rect x="1582" y="872" width="345" height="60" rx="9" fill="url(#elec)" stroke="#c8c8c8" stroke-dasharray="2 2"/>
<path d="M1642,707 Q1655,695 1680,697 Q1702,700 1710,715 Q1720,740 1725,765 M1735,800 Q1745,830 1750,855 Q1755,890 1740,905 Q1720,912 1695,910 Q1670,900 1662,885 Q1655,870 1653,860 M1642,760 Q1638,730 1642,707" fill="none" stroke="#888" stroke-width="1.2" stroke-dasharray="3 3"/>
<path d="M1773,687 Q1790,678 1805,680 Q1825,683 1830,690 M1857,830 Q1855,860 1848,880 Q1830,895 1810,893 Q1785,892 1775,887 Q1760,875 1755,860 Q1750,830 1752,800 Q1755,760 1760,740 Q1765,700 1773,687" fill="none" stroke="#888" stroke-width="1.2" stroke-dasharray="3 3"/>
<g stroke="#f0843c" stroke-width="1.5" stroke-linejoin="round">
 <path fill="url(#pink)" d="M1547,850 L1552,817 Q1585,810 1600,803 Q1615,792 1622,778 Q1632,760 1645,757 Q1660,758 1662,772 Q1660,790 1657,805 Q1662,825 1670,840 Q1672,862 1660,869 Q1645,872 1635,860 Q1620,845 1605,840 Q1580,843 1547,850 Z"/>
 <path fill="url(#peach)" d="M1747,665 L1770,687 Q1762,705 1760,720 Q1762,745 1770,765 Q1780,790 1772,802 Q1760,808 1748,800 Q1735,788 1720,783 Q1700,778 1685,772 Q1670,765 1672,750 Q1678,738 1695,735 Q1720,727 1730,715 Q1740,695 1747,665 Z"/>
 <path fill="url(#pink)" d="M1797,727 Q1803,713 1815,713 Q1832,715 1840,728 Q1852,745 1868,753 Q1890,760 1930,760 L1943,798 Q1915,795 1895,798 Q1868,802 1858,812 Q1850,830 1843,845 Q1830,852 1818,848 Q1805,838 1801,815 Q1800,795 1805,777 Q1805,755 1797,745 Z"/>
</g>
<g stroke="#1b2a55" stroke-width="1" fill="#3d72c8">
 <circle cx="1672" cy="764" r="4"/><circle cx="1676" cy="799" r="4"/><circle cx="1693" cy="796" r="4"/><circle cx="1686" cy="827" r="4"/><circle cx="1709" cy="838" r="4"/><circle cx="1681" cy="849" r="4"/>
 <circle cx="1790" cy="732" r="4"/><circle cx="1788" cy="749" r="4"/><circle cx="1796" cy="768" r="4"/><circle cx="1793" cy="795" r="4"/><circle cx="1786" cy="813" r="4"/><circle cx="1787" cy="835" r="4"/>
</g>
<g stroke="#333" stroke-width="1" fill="#f5c400">
 <circle cx="1699" cy="870" r="4"/><circle cx="1722" cy="874" r="4"/><circle cx="1679" cy="880" r="4"/><circle cx="1725" cy="889" r="4"/><circle cx="1670" cy="896" r="4"/><circle cx="1688" cy="895" r="4"/><circle cx="1706" cy="899" r="4"/>
 <circle cx="1763" cy="876" r="4"/><circle cx="1783" cy="870" r="4"/><circle cx="1802" cy="873" r="4"/><circle cx="1822" cy="871" r="4"/><circle cx="1783" cy="887" r="4"/><circle cx="1807" cy="888" r="4"/>
</g>
<g stroke="#2a1040" stroke-width="1" fill="#6b2d9c">
 <circle cx="1611" cy="754" r="4"/><circle cx="1627" cy="754" r="4"/><circle cx="1605" cy="768" r="4"/>
 <circle cx="1854" cy="824" r="4"/><circle cx="1832" cy="839" r="4"/><circle cx="1847" cy="839" r="4"/>
</g>
<path d="M1638,768 Q1626,752 1614,763 Q1609,772 1613,780" fill="none" stroke="#6b2d9c" stroke-width="4"/>
<polygon points="1607,778 1619,778 1614,787" fill="#6b2d9c"/>
<path d="M1820,823 Q1837,842 1848,818" fill="none" stroke="#6b2d9c" stroke-width="4"/>
<polygon points="1843,818 1854,818 1849,808" fill="#6b2d9c"/>
<text x="1525" y="733" font-size="18" textLength="92" lengthAdjust="spacingAndGlyphs">DAT uptake</text>
<path d="M1630,720 V738 M1625,732 L1630,739 L1635,732" fill="none" stroke="#000" stroke-width="2"/>
<text x="1788" y="686" font-size="15" textLength="119" lengthAdjust="spacingAndGlyphs">Effective diffusion</text>
<text x="1823" y="703" font-size="15" textLength="49" lengthAdjust="spacingAndGlyphs">volume</text>
<path d="M1883,707 V690 M1878,696 L1883,689 L1888,696" fill="none" stroke="#000" stroke-width="2"/>
<text transform="translate(1690,768) rotate(-14)" font-size="18" textLength="68" lengthAdjust="spacingAndGlyphs">Dendrite</text>
<text transform="translate(1485,860) rotate(-16)" font-size="17" textLength="180" lengthAdjust="spacingAndGlyphs">DAT-inhibited TH axon</text>
<text transform="translate(1819,782) rotate(3.5)" font-size="17" textLength="179" lengthAdjust="spacingAndGlyphs">DAT-inhibited TH axon</text>
<text x="1588" y="925" font-size="20" textLength="265" lengthAdjust="spacingAndGlyphs">Carbon fiber electrode (FSCV)</text>

<!-- bottom legend -->
<circle cx="1252" cy="965" r="4.5" fill="#3d72c8" stroke="#1b2a55" stroke-width="1.2"/>
<circle cx="1252" cy="985" r="4.5" fill="#6b2d9c" stroke="#2a1040" stroke-width="1.2"/>
<text x="1266" y="971" font-size="18" textLength="188" lengthAdjust="spacingAndGlyphs">Evoked Dopamine (DA)</text>
<text x="1266" y="992" font-size="18" textLength="96" lengthAdjust="spacingAndGlyphs">Uptaken DA</text>
<rect x="1471" y="959" width="4" height="4" fill="#999"/><rect x="1477" y="959" width="4" height="4" fill="#999"/>
<text x="1489" y="967" font-size="18" textLength="252" lengthAdjust="spacingAndGlyphs">Effective diffusion volume of DA</text>
<circle cx="1477" cy="984" r="4.5" fill="#f5c400" stroke="#333" stroke-width="1.2"/>
<text x="1489" y="991" font-size="18" textLength="151" lengthAdjust="spacingAndGlyphs">FSCV detected DA</text>
</svg>
</body></html>
